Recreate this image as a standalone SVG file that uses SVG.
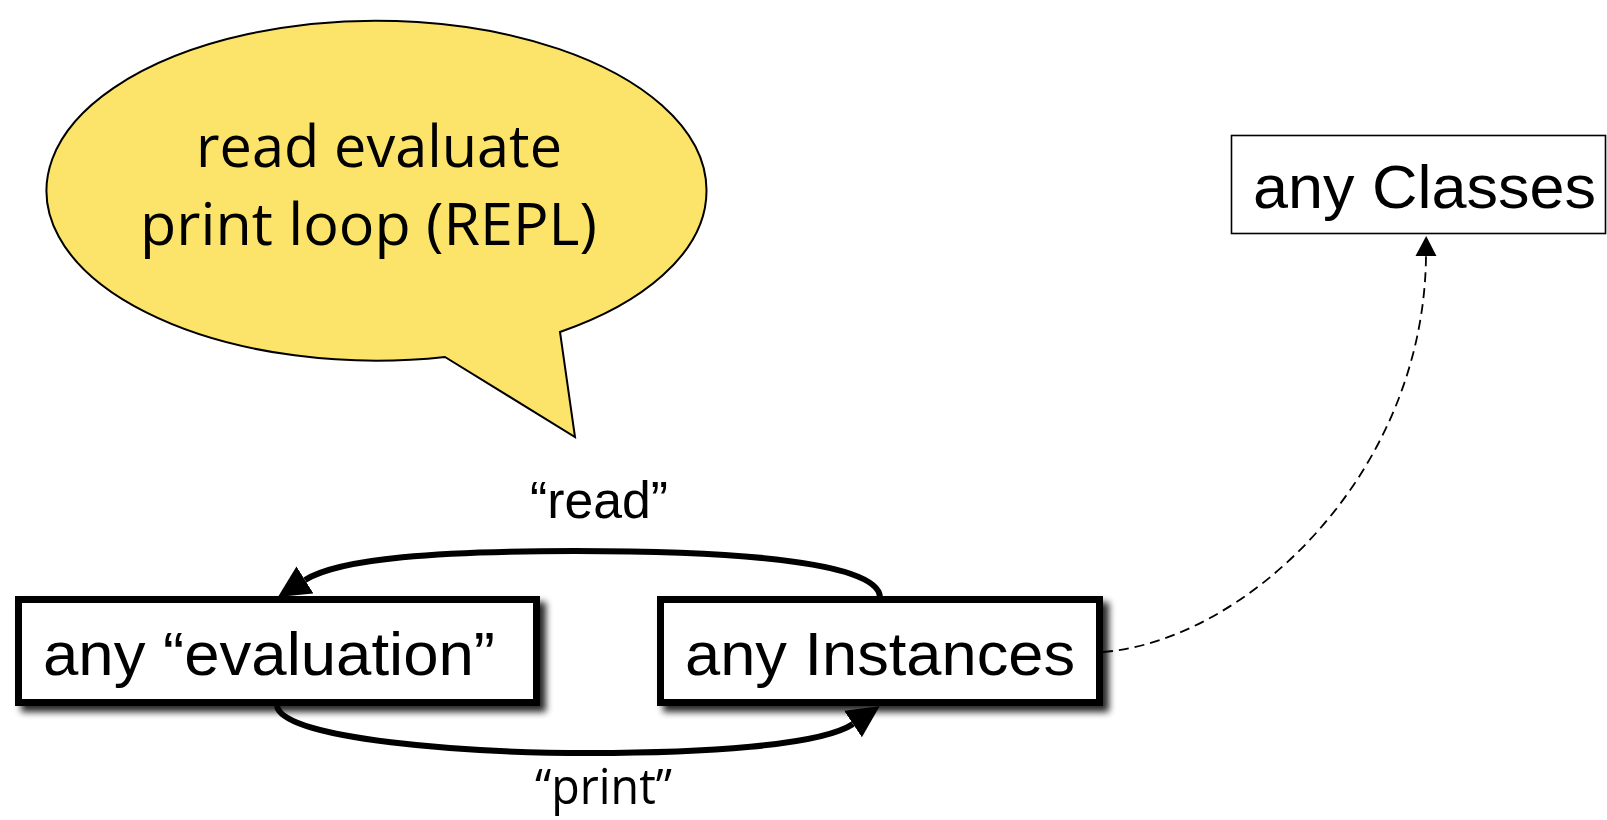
<svg xmlns="http://www.w3.org/2000/svg" width="1607" height="820" viewBox="0 0 1607 820">
  <style>
    .box { fill: #ffffff; stroke: #000000; stroke-width: 7; }
    .thin { fill: #ffffff; stroke: #000000; stroke-width: 1.6; }
    .lbl { font-family: "Liberation Sans", Arial, sans-serif; font-size: 62px; fill: #000000; }
    .bub { font-family: "Open Sans", "Noto Sans", sans-serif; font-size: 59px; fill: #000000; }
    .edge { fill: none; stroke: #000000; stroke-width: 6; }
    .dash { fill: none; stroke: #000000; stroke-width: 1.8; stroke-dasharray: 10 6; }
  </style>
  <defs>
    <filter id="shadow" x="-10%" y="-20%" width="125%" height="150%">
      <feGaussianBlur in="SourceAlpha" stdDeviation="3.5"/>
      <feOffset dx="6" dy="6" result="b"/>
      <feComponentTransfer><feFuncA type="linear" slope="0.85"/></feComponentTransfer>
      <feMerge><feMergeNode/><feMergeNode in="SourceGraphic"/></feMerge>
    </filter>
    <marker id="bigArrow" markerUnits="userSpaceOnUse" markerWidth="34" markerHeight="34" refX="0" refY="16" orient="auto">
      <path d="M0,0 L32,16 L0,32 Z" fill="#000000"/>
    </marker>
    <marker id="smallArrow" markerUnits="userSpaceOnUse" markerWidth="22" markerHeight="22" refX="0" refY="10.5" orient="auto">
      <path d="M0,0 L20,10.5 L0,21 Z" fill="#000000"/>
    </marker>
  </defs>
  <rect width="1607" height="820" fill="#ffffff"/>

  <g id="bubble">
    <path d="M 445 357 L 575 437 L 560 332 A 330 170 0 1 0 445 357 Z" fill="#FCE36A" stroke="#000000" stroke-width="2"/>
    <text class="bub" x="196" y="167" textLength="366" lengthAdjust="spacingAndGlyphs">read evaluate</text>
    <text class="bub" x="140" y="245" textLength="457" lengthAdjust="spacingAndGlyphs">print loop (REPL)</text>
  </g>

  <g id="node-evaluation">
    <rect class="box" x="18.5" y="599.5" width="518" height="103" filter="url(#shadow)"/>
    <text class="lbl" x="43" y="675" textLength="452" lengthAdjust="spacingAndGlyphs">any “evaluation”</text>
  </g>

  <g id="node-instances">
    <rect class="box" x="660.5" y="599.5" width="439" height="103" filter="url(#shadow)"/>
    <text class="lbl" x="685" y="675" textLength="390" lengthAdjust="spacingAndGlyphs">any Instances</text>
  </g>

  <g id="node-classes">
    <rect class="thin" x="1231.5" y="135.5" width="374" height="98"/>
    <text class="lbl" x="1253" y="208" textLength="343" lengthAdjust="spacingAndGlyphs">any Classes</text>
  </g>

  <g id="connectors">
    <path class="edge" d="M 880 597 C 878 560, 720 551, 575 551 C 440 551, 340 558, 305 580" marker-end="url(#bigArrow)"/>
    <path class="edge" d="M 277 706 C 283 740, 470 753, 590 753 C 700 753, 820 746, 853 724" marker-end="url(#bigArrow)"/>
    <path class="dash" d="M 1103 652 C 1245 641, 1424 475, 1426 256" marker-end="url(#smallArrow)"/>
  </g>

  <g id="labels">
    <text x="530" y="518" font-family="Liberation Sans, Arial, sans-serif" font-size="52" textLength="138" lengthAdjust="spacingAndGlyphs">“read”</text>
    <text x="535" y="804" font-family="Open Sans, Noto Sans, sans-serif" font-size="50" textLength="137" lengthAdjust="spacingAndGlyphs">“print”</text>
  </g>
</svg>
